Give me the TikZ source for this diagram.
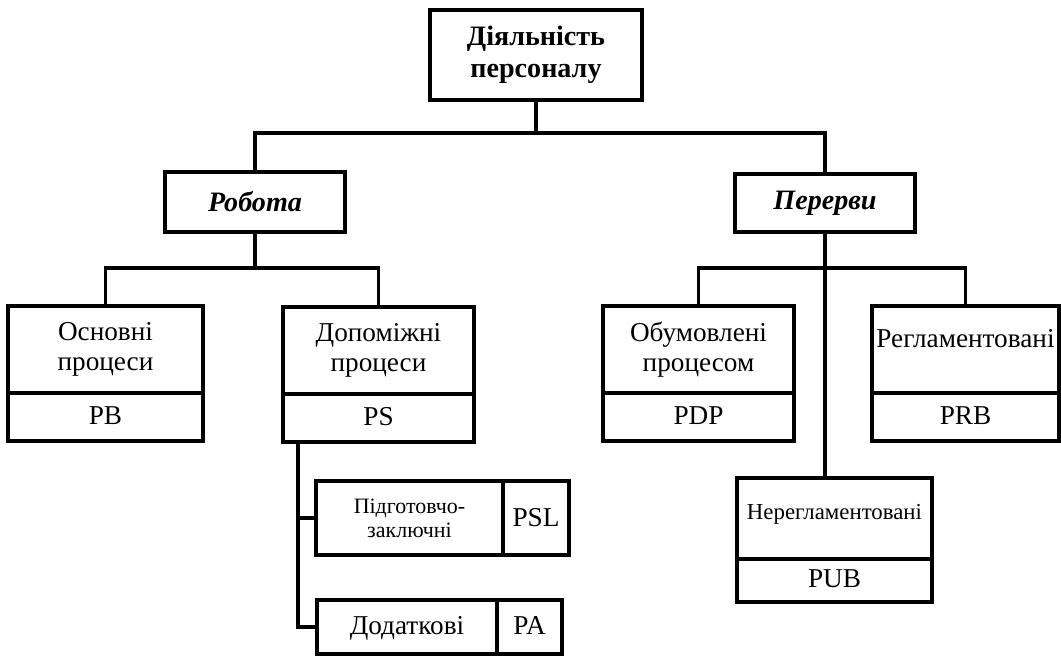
\documentclass[tikz,border=0pt]{standalone}
\usepackage{fontspec}
\setmainfont{Liberation Serif}
\usetikzlibrary{positioning}
\tikzset{
	cell/.style 2 args={draw, line width=2pt, inner sep=0pt, outer sep=0pt, align=center,
		minimum width=#1*0.02cm, minimum height=#2*0.02cm, font=\fontsize{15.5}{17}\selectfont},
	rootcell/.style={font=\fontsize{16}{18}\selectfont\bfseries},
	groupcell/.style={font=\fontsize{16}{18}\selectfont\bfseries\itshape},
	smallcell/.style={font=\fontsize{12.5}{13.5}\selectfont},
	onecell/.style={text height=11pt, text depth=3pt},
	link/.style={line width=2pt, line cap=rect}
}

\begin{document}
\begin{tikzpicture}[x=0.02cm, y=-0.02cm]
		%%%%% START %%%%%
		\useasboundingbox (0, 0) rectangle (1061, 657);
		
		\node[cell={212}{90}, rootcell] (act) at (536, 55) {Діяльність\\персоналу};
		
		\node[cell={180}{60}, groupcell] (rob) at (255, 202) {Робота};
		\node[cell={180}{58}, groupcell] (per) at (825, 203) {Перерви};
		
		\node[cell={195}{87}] (osn) at (105.5, 349.5) {Основні\\процеси};
		\node[cell={195}{48}, onecell, below=0pt of osn] (osnc) {PB};
		\node[cell={191}{87}] (dop) at (378.5, 350.5) {Допоміжні\\процеси};
		\node[cell={191}{48}, onecell, below=0pt of dop] (dopc) {PS};
		
		\node[cell={191}{87}] (obu) at (698.5, 349.5) {Обумовлені\\процесом};
		\node[cell={191}{48}, onecell, below=0pt of obu] (obuc) {PDP};
		\node[cell={187}{87}, text height=11pt, text depth=13pt] (reg) at (965.5, 349.5) {Регламентовані};
		\node[cell={187}{48}, onecell, below=0pt of reg] (regc) {PRB};
		\node[cell={195}{81}, font=\fontsize{13}{15}\selectfont, text height=10pt, text depth=9pt] (ner) at (834.5, 518.5) {Нерегламентовані};
		\node[cell={195}{43}, onecell, below=0pt of ner] (nerc) {PUB};
		
		\node[cell={187}{74}, smallcell] (psl) at (409.5, 518) {Підготовчо-\\заключні};
		\node[cell={66}{74}, right=0pt of psl] (pslc) {PSL};
		\node[cell={180}{54}, onecell] (add) at (407, 627) {Додаткові};
		\node[cell={65}{54}, onecell, right=0pt of add] (addc) {PA};
		
		% connectors
		\coordinate (top) at (536, 133);
		\coordinate (rj) at (255, 268);
		\coordinate (pj) at (825, 268);
		
		\draw[link] (act.south) -- (top);
		\draw[link] (rob.north) |- (top) -| (per.north);
		
		\draw[link] (rob.south) -- (rj);
		\draw[link] (osn.north) |- (rj) -| (dop.north);
		
		\draw[link] (per.south) -- (pj);
		\draw[link] (obu.north) |- (pj) -| (reg.north);
		\draw[link] (pj) -- (pj |- ner.north);
		
		\draw[link] ([xshift=0.3cm]dopc.south west) |- (psl.west);
		\draw[link] ([xshift=0.3cm]dopc.south west) |- (add.west);
		%%%%% END %%%%%
	\end{tikzpicture}
\end{document}
